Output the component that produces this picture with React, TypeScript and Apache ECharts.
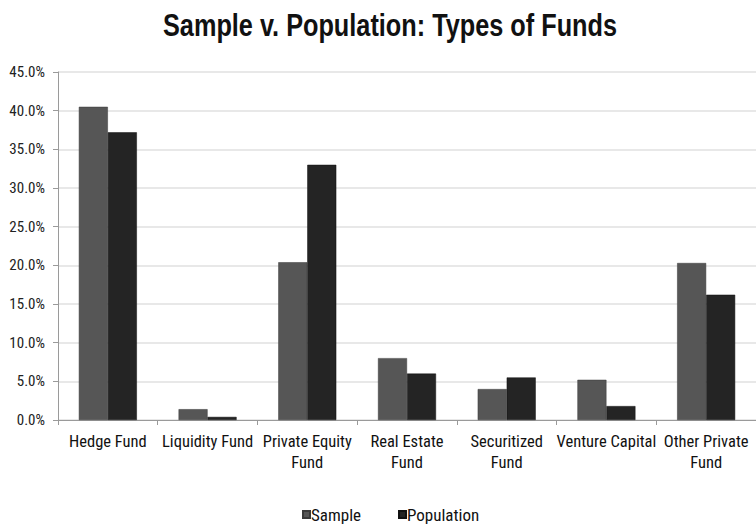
import React, { useEffect, useRef } from "react";
import * as echarts from "echarts";

const titleText = "Sample v. Population: Types of Funds";
const categories = [
  "Hedge Fund",
  "Liquidity Fund",
  "Private Equity\nFund",
  "Real Estate\nFund",
  "Securitized\nFund",
  "Venture Capital",
  "Other Private\nFund",
];
const sampleValues = [40.5, 1.4, 20.4, 8.0, 4.0, 5.2, 20.3];
const populationValues = [37.2, 0.4, 33.0, 6.0, 5.5, 1.8, 16.2];
const yTicks = { min: 0, max: 45, interval: 5 };

const FONT = "'Roboto Condensed', 'Liberation Sans', sans-serif";

export default function App() {
  const ref = useRef<HTMLDivElement>(null);
  useEffect(() => {
    if (!ref.current) return;
    const chart = echarts.init(ref.current, null, { renderer: "svg" });
    chart.setOption({
      animation: false,
      backgroundColor: "#ffffff",
      graphic: [
        {
          type: "text",
          x: 390,
          y: 25,
          scaleX: 0.79,
          style: {
            text: titleText,
            font: "bold 32px 'Liberation Sans', Arial, sans-serif",
            fill: "#111111",
            textAlign: "center",
            textVerticalAlign: "middle",
          },
        },
      ],
      legend: {
        top: 506,
        left: 302,
        padding: 0,
        itemWidth: 7,
        itemHeight: 7,
        itemGap: 37,
        icon: "rect",
        textStyle: { fontFamily: FONT, fontSize: 17, color: "#111", padding: [0, 0, 0, -4] },
        data: ["Sample", "Population"],
      },
      grid: { left: 58, top: 72, width: 705, height: 348 },
      xAxis: {
        type: "category",
        data: categories,
        axisLine: { lineStyle: { color: "#9a9a9a", width: 1 } },
        axisTick: { show: true, length: 5, lineStyle: { color: "#9a9a9a" } },
        axisLabel: {
          interval: 0,
          fontFamily: FONT,
          fontSize: 16.5,
          color: "#111",
          lineHeight: 21,
          margin: 11,
        },
      },
      yAxis: {
        type: "value",
        min: yTicks.min,
        max: yTicks.max,
        interval: yTicks.interval,
        axisLine: { show: true, lineStyle: { color: "#9a9a9a" } },
        axisTick: { show: true, length: 5, lineStyle: { color: "#9a9a9a" } },
        splitLine: { lineStyle: { color: "#e0e0e0", width: 1.5 } },
        axisLabel: {
          fontFamily: FONT,
          fontSize: 15,
          color: "#222",
          margin: 13,
          formatter: (v: number) => v.toFixed(1) + "%",
        },
      },
      series: [
        {
          name: "Sample",
          type: "bar",
          data: sampleValues,
          barWidth: 29,
          barGap: "0%",
          itemStyle: { color: "#565656", borderColor: "#3a3a3a", borderWidth: 0.5 },
        },
        {
          name: "Population",
          type: "bar",
          data: populationValues,
          barWidth: 29,
          barGap: "0%",
          itemStyle: { color: "#242424", borderColor: "#111", borderWidth: 0.5 },
        },
      ],
    });
    return () => chart.dispose();
  }, []);
  return (
    <div
      ref={ref}
      style={{ position: "fixed", left: 0, top: 0, width: 756, height: 528, background: "#fff" }}
    />
  );
}
